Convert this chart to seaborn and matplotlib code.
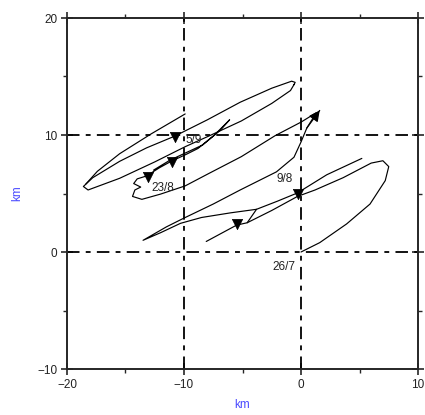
import numpy as np
import pandas as pd
import seaborn as sns
import matplotlib.pyplot as plt
from matplotlib.ticker import MultipleLocator

sns.set_style('ticks')
plt.rcParams['font.family'] = ['Liberation Sans', 'DejaVu Sans']
plt.rcParams['lines.scale_dashes'] = False

# --- drift track (km east, km north) ---
seg_a_x = [0.0, 1.6, 3.9, 5.9, 7.2, 7.5, 7.0, 6.0, 3.6, 1.2, -0.3, -2.5, -4.6, -5.5, -6.8, -8.1]
seg_a_y = [0.0, 0.8, 2.4, 4.1, 6.1, 7.3, 7.8, 7.6, 6.35, 5.3, 4.75, 3.55, 2.5, 2.3, 1.6, 0.9]

seg_b_x = [-4.6, -3.8, -2.0, -0.3, 2.2, 5.2]
seg_b_y = [2.5, 3.65, 4.35, 5.05, 6.6, 8.0]

seg_c_x = [-3.8, -6.0, -8.5, -10.3, -12.0, -13.5, -11.5, -10.1, -7.5, -5.2, -2.1, -0.6, 0.0, 0.5, 1.0, 1.6]
seg_c_y = [3.65, 3.35, 2.95, 2.45, 1.65, 1.0, 2.15, 2.85, 4.1, 5.3, 6.85, 8.1, 9.4, 10.6, 11.4, 12.1]

seg_d_x = [1.3, 0.0, -2.2, -5.1, -7.9, -9.9, -12.0, -13.6, -14.4, -14.2, -13.7, -14.3, -14.0, -13.2,
           -12.1, -11.1, -9.8, -8.8, -7.4, -6.1, -6.9, -8.4, -9.8, -11.2, -12.6]
seg_d_y = [11.9, 11.1, 9.95, 8.15, 6.7, 5.65, 4.95, 4.5, 4.75, 5.3, 5.55, 5.85, 6.25, 6.5,
           7.2, 7.75, 8.35, 8.85, 10.0, 11.3, 10.4, 9.15, 8.5, 7.85, 7.0]

seg_e_x = [-0.6, -0.9, -2.5, -5.1, -7.9, -9.9, -12.5, -15.5, -18.2, -18.6, -17.8, -15.5, -13.2,
           -10.8, -8.0, -5.2, -2.5, -0.8, -0.5, -0.6]
seg_e_y = [14.3, 13.8, 12.7, 11.2, 9.9, 9.0, 7.7, 6.3, 5.3, 5.6, 6.35, 7.75, 8.9,
           9.9, 11.3, 12.8, 14.0, 14.6, 14.5, 14.3]

seg_f_x = [-9.9, -12.8, -15.5, -17.4, -18.4]
seg_f_y = [11.8, 10.1, 8.4, 6.9, 5.8]

mark_x = [-0.25, -5.5, -13.05, -11.05, -10.8]
mark_y = [4.95, 2.4, 6.45, 7.65, 9.85]

date_labels = ['26/7', '9/8', '23/8', '5/9']
date_x = [-1.5, -1.4, -11.8, -9.2]
date_y = [-1.3, 6.2, 5.45, 9.6]

frames = []
for i, (xs, ys) in enumerate([(seg_a_x, seg_a_y), (seg_b_x, seg_b_y),
                              (seg_c_x, seg_c_y), (seg_d_x, seg_d_y),
                              (seg_e_x, seg_e_y), (seg_f_x, seg_f_y)]):
    frames.append(pd.DataFrame({'x': xs, 'y': ys, 'seg': i}))
df = pd.concat(frames, ignore_index=True)

fig = plt.figure(figsize=(4.25, 4.15), dpi=100)
ax = fig.add_axes([67 / 425, 1 - 369 / 415, (418 - 67) / 425, (369 - 18) / 415])

dash = (0, (9, 4.5, 3.5, 4.5))
for v in [-10, 0]:
    ax.axvline(v, color='black', lw=1.3, linestyle=dash, zorder=1)
for h in [10, 0]:
    ax.axhline(h, color='black', lw=1.3, linestyle=dash, zorder=1)

sns.lineplot(data=df, x='x', y='y', units='seg', estimator=None, sort=False,
             color='black', lw=0.85, ax=ax, zorder=3)
sns.scatterplot(x=mark_x, y=mark_y, marker='v', s=55, color='black',
                edgecolor='black', linewidth=0.5, ax=ax, zorder=4)

ax.annotate('', xy=(seg_c_x[-1], seg_c_y[-1]), xytext=(seg_c_x[-3], seg_c_y[-3]),
            arrowprops=dict(arrowstyle='-|>', color='black', lw=0.9,
                            mutation_scale=16, shrinkA=0, shrinkB=0), zorder=5)

for t, x, y in zip(date_labels, date_x, date_y):
    ax.text(x, y, t, fontsize=8.5, color='#222222', ha='center', va='center', zorder=6)

ax.set_xlim(-20, 10)
ax.set_ylim(-10, 20)
ax.xaxis.set_major_locator(MultipleLocator(10))
ax.yaxis.set_major_locator(MultipleLocator(10))
ax.xaxis.set_minor_locator(MultipleLocator(5))
ax.yaxis.set_minor_locator(MultipleLocator(5))
ax.tick_params(which='major', direction='inout', length=8, width=1.2,
               top=True, right=True, labelsize=8.5, labelcolor='#222222', pad=3)
ax.tick_params(which='minor', direction='out', length=3, width=1.0,
               top=True, right=True)
for s in ax.spines.values():
    s.set_visible(True)
    s.set_linewidth(1.4)

ax.set_xlabel('km', color='#4b4bff', fontsize=8.5, labelpad=6)
ax.set_ylabel('km', color='#4b4bff', fontsize=8.5, labelpad=10)

fig.savefig('out.png', dpi=100)
